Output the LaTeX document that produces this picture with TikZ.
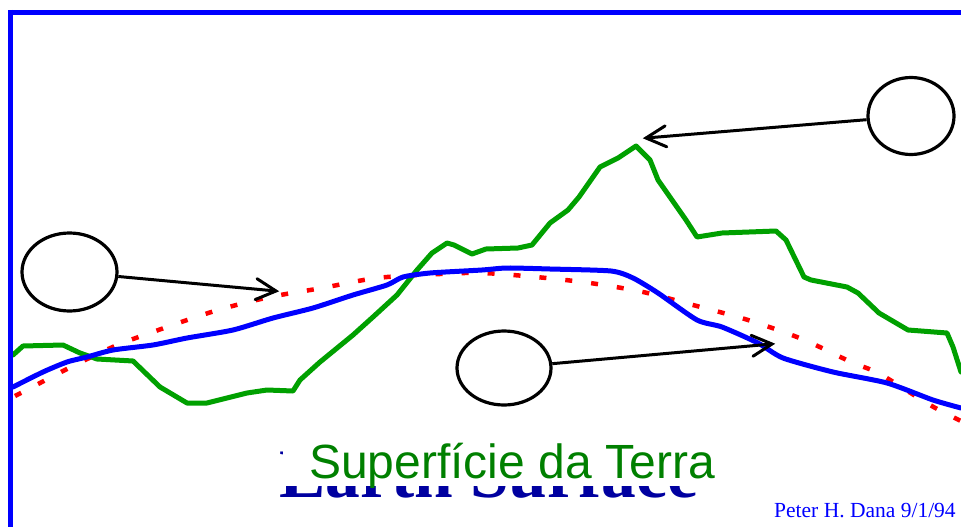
\documentclass[tikz,border=0pt]{standalone}
\usepackage{fontspec}
\setmainfont{Liberation Serif}
\newfontfamily\arialfont{Liberation Sans}
\usetikzlibrary{shapes.geometric,decorations.markings}
\definecolor{terrain}{RGB}{0,160,0}
\definecolor{txtgreen}{RGB}{0,128,0}
\definecolor{navyblue}{RGB}{0,0,160}
\tikzset{
  frameline/.style={blue,line width=5pt},
  curve/.style={line width=5pt,line join=round,line cap=round},
  ell/.style={draw=black,ellipse,line width=3.2pt,inner sep=0pt},
  arr/.style={draw=black,line width=3pt,postaction={decorate},
    decoration={markings,mark=at position 1 with {\draw[black,line width=3pt,line cap=round,line join=miter] (-20pt,10.5pt) -- (0pt,0pt) -- (-20pt,-10.5pt);}}},
}
\begin{document}
\begin{tikzpicture}[x=1pt,y=-1pt]
\useasboundingbox (0,0) rectangle (961,527);
\fill[white] (0,0) rectangle (961,527);
% frame
\draw[frameline] (8,12.5) -- (961,12.5);
\draw[frameline] (10.5,10) -- (10.5,527);
% curves
\begin{scope}
\clip (13,15) rectangle (961,527);
\draw[curve,red,line width=4.5pt,line cap=butt,dash pattern=on 7pt off 19pt] plot[smooth] coordinates {(15,396) (40,383) (65,370) (115,346) (167,327) (218,310) (270,297) (322,288) (377,278) (440,274) (482,273) (536,277) (590,283) (643,292) (693,305) (748,320) (802,339) (851,362) (880,374) (930,405) (961,421)};
\draw[curve,terrain] (13,355) -- (23,346) -- (63,345) -- (80,353) -- (97,359) -- (133,361) -- (160,387) -- (187,403) -- (207,403) -- (247,393) -- (267,390) -- (293,391) -- (300,380) -- (320,362) -- (353,335) -- (373,317) -- (397,295) -- (417,270) -- (432,253) -- (447,243) -- (454,245) -- (472,254) -- (486,249) -- (518,248) -- (532,245) -- (550,223) -- (568,210) -- (579,197) -- (600,167) -- (618,158) -- (636,146) -- (650,160) -- (658,180) -- (672,200) -- (686,220) -- (697,237) -- (722,233) -- (776,231) -- (786,240) -- (804,277) -- (811,280) -- (847,287) -- (858,293) -- (879,313) -- (908,330) -- (947,333) -- (953,347) -- (961,372);
\draw[curve,blue] plot[smooth,tension=0.4] coordinates {(13,387) (43,372) (67,362) (87,357) (113,350) (153,345) (187,338) (233,330) (273,318) (313,308) (353,295) (387,285) (403,277) (430,273) (482,270) (507,268) (550,269) (611,271) (633,278) (658,293) (697,320) (722,327) (758,343) (783,358) (833,372) (887,383) (933,400) (961,408)};
\end{scope}
% ellipses
\node[ell,minimum width=86pt,minimum height=77pt] (e1) at (911,116) {};
\node[ell,minimum width=95pt,minimum height=78pt] (e2) at (69.5,272) {};
\node[ell,minimum width=94pt,minimum height=74pt] (e3) at (504,368) {};
\coordinate (t1) at (646,138);
\coordinate (t2) at (276,291);
\coordinate (t3) at (772,344);
\draw[arr] (e1) -- (t1);
\draw[arr] (e2) -- (t2);
\draw[arr] (e3) -- (t3);
% labels
\node[anchor=base west,inner sep=0pt,text=navyblue,font=\fontsize{69.5}{69.5}\selectfont\bfseries] (en) at (279,497) {Earth Surface};
\fill[white] (282.5,436) rectangle (730,486);
\node[anchor=base west,inner sep=0pt,text=txtgreen,font=\arialfont\fontsize{48}{48}\selectfont] (pt) at (309,478) {Superfície da Terra};
\node[anchor=base west,inner sep=0pt,text=blue,font=\fontsize{21.5}{21.5}\selectfont] (au) at (774,517) {Peter H. Dana 9/1/94};
\end{tikzpicture}
\end{document}
